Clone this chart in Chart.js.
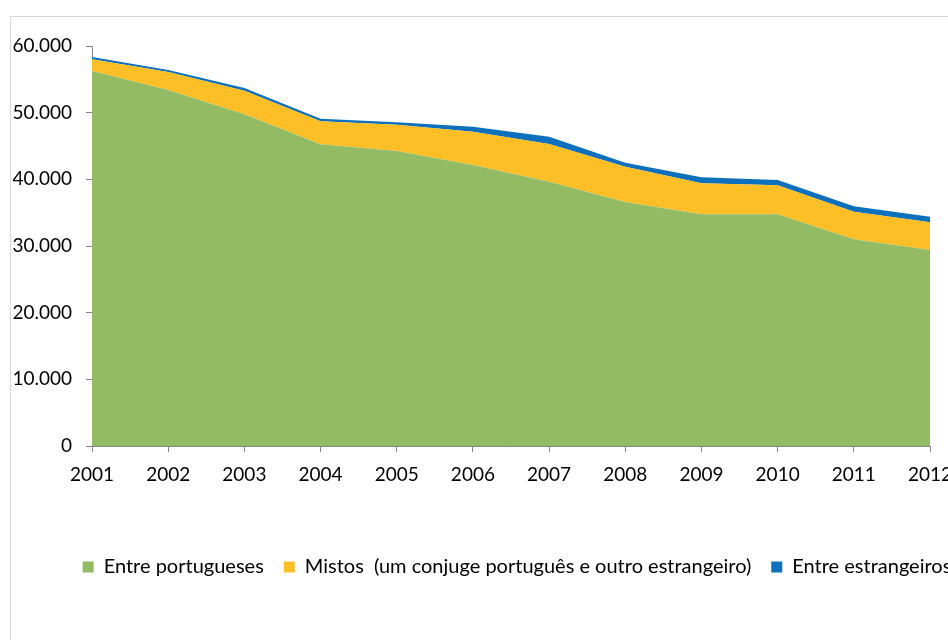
<!DOCTYPE html>
<html>
<head>
<meta charset="utf-8">
<script src="https://cdn.jsdelivr.net/npm/chart.js@4.4.1/dist/chart.umd.min.js"></script>
<style>
  html, body { margin: 0; padding: 0; background: #fff; overflow: hidden; width: 948px; height: 640px; }
  #box { position: absolute; left: 10px; top: 16px; width: 1012px; height: 640px; border: 1px solid #d9d9d9; }
  #chart { display: block; }
</style>
</head>
<body>
<div id="box"><canvas id="chart" width="1012" height="640"></canvas></div>
<script>
const years = ['2001', '2002', '2003', '2004', '2005', '2006', '2007', '2008', '2009', '2010', '2011', '2012'];
const entrePortugueses = [56250, 53400, 49750, 45250, 44250, 42150, 39650, 36600, 34750, 34750, 31000, 29400];
const mistos = [1750, 2700, 3550, 3450, 3950, 5000, 5650, 5300, 4650, 4350, 4150, 4150];
const entreEstrangeiros = [350, 300, 400, 400, 350, 750, 1100, 600, 900, 800, 800, 850];
const yTicks = [0, 10000, 20000, 30000, 40000, 50000, 60000];

const axisGray = '#868686';
const fontFamily = 'Lato, "Open Sans", sans-serif';

function fmt(v) {
    return String(v).replace(/\B(?=(\d{3})+(?!\d))/g, '.');
}

function area(label, data, color, fill) {
    return {
        label: label,
        data: data,
        backgroundColor: color,
        borderColor: color,
        borderWidth: 0,
        pointRadius: 0,
        tension: 0,
        fill: fill
    };
}

const ctx = document.getElementById('chart').getContext('2d');
new Chart(ctx, {
    type: 'line',
    data: {
        labels: years,
        datasets: [
            area('Entre portugueses', entrePortugueses, '#93bb64', 'origin'),
            area('Mistos  (um conjuge português e outro estrangeiro)', mistos, '#fdbe26', '-1'),
            area('Entre estrangeiros', entreEstrangeiros, '#0c70bd', '-1')
        ]
    },
    options: {
        responsive: false,
        animation: false,
        layout: { padding: { top: 29, bottom: 70, left: 0, right: 0 } },
        plugins: {
            tooltip: { enabled: false },
            legend: {
                position: 'bottom',
                labels: {
                    boxWidth: 11,
                    boxHeight: 11,
                    padding: 20,
                    color: '#000',
                    font: { family: fontFamily, size: 20 }
                }
            }
        },
        scales: {
            x: {
                offset: false,
                grid: { display: true, drawOnChartArea: false, offset: false, color: axisGray, tickLength: 6 },
                border: { color: axisGray, width: 1 },
                ticks: { color: '#000', padding: 11, maxRotation: 0, autoSkip: false, font: { family: fontFamily, size: 19 } },
                afterFit: s => { s.height = 91; }
            },
            y: {
                stacked: true,
                min: 0,
                max: 60000,
                afterBuildTicks: s => { s.ticks = yTicks.map(v => ({ value: v })); },
                grid: { display: true, drawOnChartArea: false, color: axisGray, tickLength: 6 },
                border: { color: axisGray, width: 1 },
                ticks: { color: '#000', padding: 14, callback: v => fmt(v), font: { family: fontFamily, size: 19 } },
                afterFit: s => { s.width = 81; }
            },
            yRight: {
                position: 'right',
                display: true,
                grid: { display: false },
                border: { display: false },
                ticks: { display: false },
                afterFit: s => { s.width = 93; }
            }
        }
    }
});
</script>
</body>
</html>
